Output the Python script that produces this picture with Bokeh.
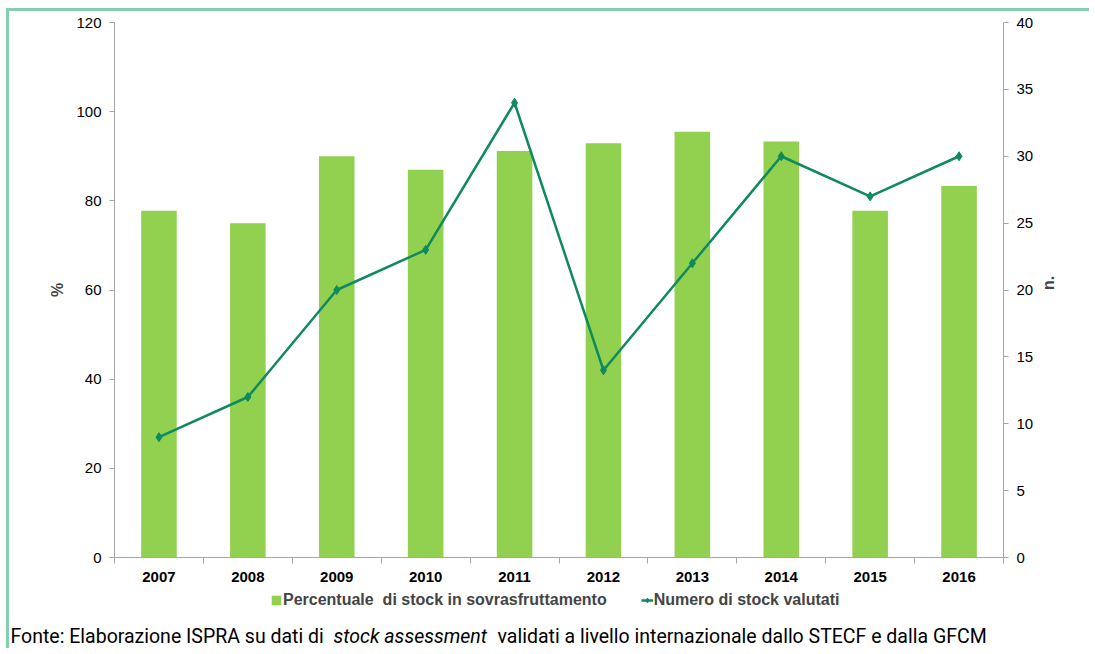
import math
from bokeh.plotting import figure
from bokeh.models import (Range1d, LinearAxis, FixedTicker, Legend, LegendItem,
                          Label, ColumnDataSource)
from bokeh.embed import file_html
from bokeh.resources import INLINE

# ---- data ----
years = ["2007", "2008", "2009", "2010", "2011", "2012", "2013", "2014", "2015", "2016"]
pct_overfished = [77.8, 75.0, 90.0, 87.0, 91.2, 92.9, 95.5, 93.3, 77.8, 83.3]
n_assessed = [9, 12, 20, 23, 34, 14, 22, 30, 27, 30]
left_ticks = [0, 20, 40, 60, 80, 100, 120]
right_ticks = [0, 5, 10, 15, 20, 25, 30, 35, 40]
bar_label = "Percentuale  di stock in sovrasfruttamento"
line_label = "Numero di stock valutati"
y_left_title = "%"
y_right_title = "n."
footer_a = "Fonte: Elaborazione ISPRA su dati di"
footer_b = "stock assessment"
footer_c = "validati a livello internazionale dallo STECF e dalla GFCM"

BAR = "#92d050"
LINE = "#0f8a5f"
AX = "#a6a6a6"
FONT = "Liberation Sans"

# ---- layout geometry (pixels) ----
W, H = 1083, 640            # canvas
OX, OY = 9, 11              # canvas origin on page
FL, FR, FT, FB = 114, 1003, 22, 557   # where the plotting box sits on the page
n_cat = len(years)
LMAX, RMAX = 120, 40
pxx = (FR - FL) / n_cat
pxy = (FB - FT) / LMAX
x0 = -(FL - OX) / pxx
x1 = n_cat + (OX + W - FR) / pxx
y1 = LMAX + (FT - OY) / pxy
y0 = -(OY + H - FB) / pxy

xpos = [i + 0.5 for i in range(n_cat)]
src = ColumnDataSource(dict(x=xpos, pct=pct_overfished, n=n_assessed))

p = figure(width=W, height=H, output_backend="svg", toolbar_location=None,
           x_range=Range1d(x0, x1), y_range=Range1d(y0, y1),
           min_border=0, x_axis_location=None, y_axis_location=None)
p.styles = {"margin-left": "6px", "margin-top": "8px",
            "border-left": "3px solid #86cdb2", "border-top": "3px solid #86cdb2"}
p.outline_line_color = None
p.xgrid.grid_line_color = None
p.ygrid.grid_line_color = None
p.background_fill_color = "white"
p.border_fill_color = "white"

p.extra_y_ranges = {"n": Range1d(y0 * RMAX / LMAX, y1 * RMAX / LMAX)}

bars = p.vbar(x="x", top="pct", width=0.4, source=src, fill_color=BAR, line_color=None)
ln = p.line(x="x", y="n", source=src, line_color=LINE, line_width=2.5, y_range_name="n")
pts = p.scatter(x="x", y="n", source=src, marker="diamond", size=9, fill_color=LINE,
                line_color=LINE, y_range_name="n")

# x axis
xa = LinearAxis(fixed_location=0, bounds=(0, n_cat),
                ticker=FixedTicker(ticks=xpos, minor_ticks=list(range(n_cat + 1))))
xa.major_label_overrides = {x: y for x, y in zip(xpos, years)}
xa.major_tick_out = 0
xa.major_tick_in = 0
xa.minor_tick_out = 6
xa.minor_tick_in = 0
xa.minor_tick_line_color = AX
xa.axis_line_color = AX
xa.major_label_text_font = FONT
xa.major_label_text_font_style = "bold"
xa.major_label_text_font_size = "15px"
xa.major_label_text_color = "black"
xa.major_label_standoff = 8
p.add_layout(xa, "below")

# left axis
ya = LinearAxis(fixed_location=0, bounds=(0, LMAX), ticker=FixedTicker(ticks=left_ticks))
ya.minor_tick_line_color = None
ya.major_tick_out = 5
ya.major_tick_in = 0
ya.major_tick_line_color = AX
ya.axis_line_color = AX
ya.major_label_text_font = FONT
ya.major_label_text_font_size = "15px"
ya.major_label_text_color = "black"
ya.major_label_standoff = 8
ya.axis_label = y_left_title
ya.axis_label_text_font = FONT
ya.axis_label_text_font_style = "bold"
ya.axis_label_text_font_size = "16px"
ya.axis_label_standoff = 7
p.add_layout(ya, "left")

# right axis
ra = LinearAxis(y_range_name="n", fixed_location=n_cat, bounds=(0, RMAX),
                ticker=FixedTicker(ticks=right_ticks))
ra.minor_tick_line_color = None
ra.major_tick_out = 5
ra.major_tick_in = 0
ra.major_tick_line_color = AX
ra.axis_line_color = AX
ra.major_label_text_font = FONT
ra.major_label_text_font_size = "15px"
ra.major_label_text_color = "black"
ra.major_label_standoff = 8
ra.axis_label = y_right_title
ra.axis_label_text_font = FONT
ra.axis_label_text_font_style = "bold"
ra.axis_label_text_font_size = "16px"
ra.axis_label_standoff = 12
ra.axis_label_orientation = math.pi / 2
p.add_layout(ra, "right")

legend = Legend(items=[LegendItem(label=bar_label, renderers=[bars]),
                       LegendItem(label=line_label, renderers=[ln, pts])],
                orientation="horizontal", location=(261, 42),
                label_text_font=FONT, label_text_font_style="bold",
                label_text_font_size="16px", glyph_width=12, glyph_height=12,
                label_standoff=1, spacing=34, padding=0, margin=0,
                border_line_color=None, background_fill_alpha=0,
                label_height=16)
p.add_layout(legend, "center")

# footer (screen units relative to the plotting area's bottom-left)
FOOT = "Roboto"
fy = 15
for txt, fx, style in [(footer_a, 1, "normal"), (footer_b, 324, "italic"),
                       (footer_c, 488, "normal")]:
    p.add_layout(Label(x=fx, y=fy, x_units="screen", y_units="screen", text=txt,
                       text_font=FOOT, text_font_size="19.5px",
                       text_font_style=style, text_baseline="middle",
                       text_color="black"))

open("out.html", "w").write(file_html(p, INLINE))
